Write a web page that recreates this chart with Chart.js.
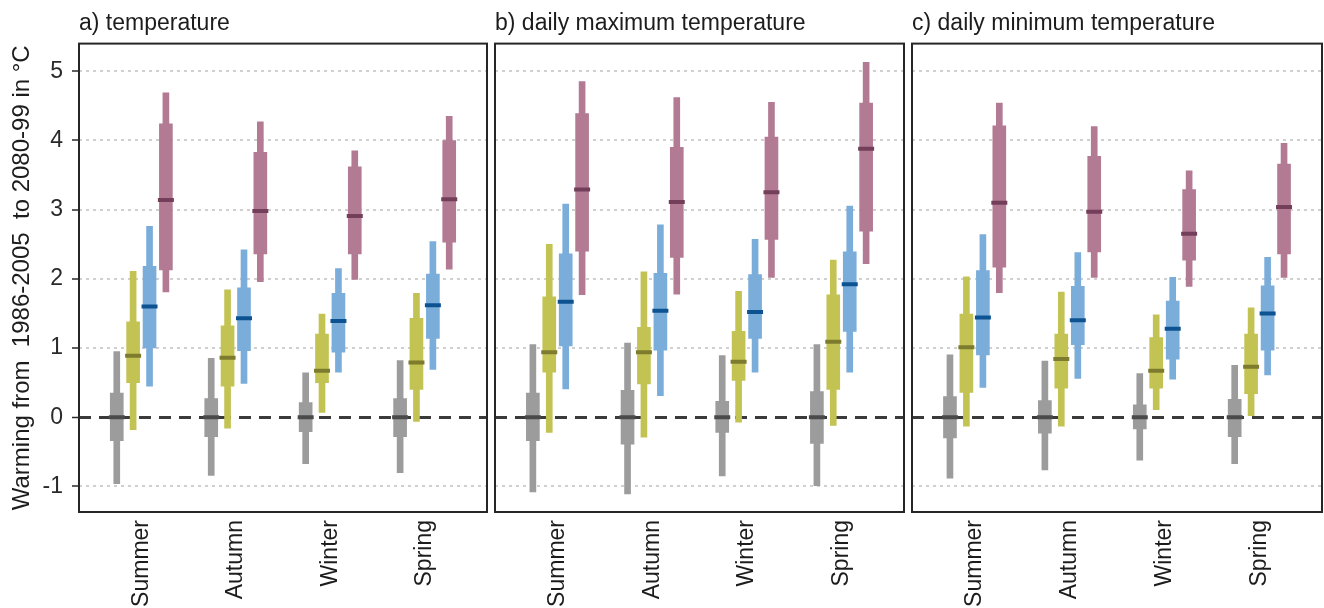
<!DOCTYPE html>
<html>
<head>
<meta charset="utf-8">
<title>Seasonal warming</title>
<script src="https://cdn.jsdelivr.net/npm/chart.js@4.4.1/dist/chart.umd.min.js"></script>
<style>
    html, body { margin: 0; padding: 0; background: #fff; }
    #wrap { position: relative; width: 1324px; height: 608px; overflow: hidden; }
    #wrap canvas { position: absolute; top: 0; }
</style>
</head>
<body>
<div id="wrap">
    <canvas id="panel-a" width="490" height="608" style="left:0px"></canvas>
    <canvas id="panel-b" width="418" height="608" style="left:490px"></canvas>
    <canvas id="panel-c" width="416" height="608" style="left:908px"></canvas>
</div>
<script>
// ── Data ──────────────────────────────
const SEASONS = ['Summer', 'Autumn', 'Winter', 'Spring'];
const SERIES = ['internal variability', 'RCP2.6', 'RCP4.5', 'RCP8.5'];
const Y_TICKS = [-1, 0, 1, 2, 3, 4, 5];
const Y_LABEL = 'Warming from  1986-2005  to 2080-99 in °C';

// each array: one row per series (grey, olive, blue, purple), one value per season
// a) temperature
const tempMin  = [[-0.96, -0.84, -0.67, -0.80], [-0.18, -0.16, 0.07, -0.06], [0.45, 0.49, 0.65, 0.69], [1.81, 1.96, 1.99, 2.14]];
const tempLow  = [[-0.34, -0.28, -0.21, -0.28], [0.50, 0.45, 0.50, 0.40], [1.00, 0.96, 0.94, 1.14], [2.13, 2.36, 2.36, 2.53]];
const tempMed  = [[0, 0, 0, 0], [0.89, 0.86, 0.67, 0.79], [1.60, 1.43, 1.39, 1.62], [3.14, 2.98, 2.91, 3.15]];
const tempHigh = [[0.35, 0.27, 0.21, 0.27], [1.38, 1.32, 1.20, 1.43], [2.18, 1.87, 1.79, 2.07], [4.24, 3.83, 3.62, 4.00]];
const tempMax  = [[0.95, 0.85, 0.64, 0.82], [2.11, 1.84, 1.49, 1.79], [2.76, 2.42, 2.15, 2.54], [4.69, 4.27, 3.85, 4.35]];

// b) daily maximum temperature
const tmaxMin  = [[-1.08, -1.11, -0.85, -0.99], [-0.22, -0.29, -0.07, -0.12], [0.41, 0.31, 0.65, 0.65], [1.77, 1.78, 2.02, 2.22]];
const tmaxLow  = [[-0.34, -0.39, -0.22, -0.38], [0.65, 0.48, 0.53, 0.40], [1.03, 0.97, 1.14, 1.24], [2.40, 2.31, 2.57, 2.69]];
const tmaxMed  = [[0, 0, 0, 0], [0.94, 0.94, 0.80, 1.09], [1.67, 1.54, 1.52, 1.92], [3.29, 3.11, 3.25, 3.88]];
const tmaxHigh = [[0.35, 0.39, 0.23, 0.37], [1.74, 1.30, 1.24, 1.77], [2.36, 2.08, 2.06, 2.39], [4.39, 3.90, 4.05, 4.54]];
const tmaxMax  = [[1.05, 1.07, 0.89, 1.05], [2.50, 2.10, 1.82, 2.27], [3.08, 2.78, 2.57, 3.05], [4.85, 4.62, 4.55, 5.13]];

// c) daily minimum temperature
const tminMin  = [[-0.88, -0.76, -0.62, -0.67], [-0.13, -0.13, 0.11, 0.00], [0.43, 0.56, 0.55, 0.61], [1.80, 2.02, 1.89, 2.02]];
const tminLow  = [[-0.30, -0.23, -0.17, -0.28], [0.36, 0.42, 0.42, 0.34], [0.90, 1.05, 0.84, 0.97], [2.17, 2.39, 2.27, 2.36]];
const tminMed  = [[0, 0, 0, 0], [1.01, 0.84, 0.67, 0.73], [1.44, 1.40, 1.28, 1.50], [3.10, 2.97, 2.65, 3.04]];
const tminHigh = [[0.30, 0.24, 0.18, 0.26], [1.49, 1.20, 1.15, 1.20], [2.12, 1.89, 1.68, 1.90], [4.21, 3.77, 3.29, 3.66]];
const tminMax  = [[0.90, 0.81, 0.63, 0.75], [2.03, 1.81, 1.48, 1.58], [2.64, 2.38, 2.02, 2.31], [4.54, 4.20, 3.56, 3.96]];

// ── Style ─────────────────────────────
const FONT = "'Liberation Sans', Arial, sans-serif";
const FILL = ['#9c9c9c', '#c3c353', '#7badda', '#b27b93'];
const MEDIAN = ['#4a4a4a', '#7d7b2d', '#0d5392', '#733e5a'];
const DODGE = [-0.26, -0.087, 0.087, 0.26]; // series offset inside a season, in category units
const TEXT = '#1c1c1c';

Chart.defaults.font.family = FONT;
Chart.defaults.font.size = 23;
Chart.defaults.color = TEXT;

const framePlugin = {
    id: 'frame',
    afterDatasetsDraw(chart) {
        const { ctx, chartArea: a } = chart;
        ctx.save();
        ctx.strokeStyle = '#262626';
        ctx.lineWidth = 2;
        ctx.strokeRect(a.left, a.top, a.right - a.left, a.bottom - a.top);
        ctx.restore();
    }
};

// ── Panels ────────────────────────────
function buildDatasets(lo, q1, med, q3, hi) {
    const out = [];
    SERIES.forEach((name, k) => {
        const span = (a, b) => SEASONS.map((s, i) => ({ x: i + 1 + DODGE[k], y: [a[k][i], b[k][i]] }));
        out.push({
            type: 'bar', label: name + ' range', data: span(lo, hi),
            backgroundColor: FILL[k], borderWidth: 0, barThickness: 6, grouped: false, order: 2
        });
        out.push({
            type: 'bar', label: name + ' box', data: span(q1, q3),
            backgroundColor: FILL[k], borderWidth: 0, barThickness: 13, grouped: false, order: 1
        });
        out.push({
            type: 'scatter', label: name + ' median',
            data: SEASONS.map((s, i) => ({ x: i + 1 + DODGE[k], y: med[k][i] })),
            showLine: false, pointStyle: 'line', pointRadius: 8, pointHoverRadius: 8,
            pointBorderColor: MEDIAN[k], pointBorderWidth: 4, order: 0
        });
    });
    return out;
}

function drawPanel(id, title, datasets, o) {
    new Chart(document.getElementById(id), {
        type: 'bar',
        data: { datasets },
        options: {
            responsive: false, animation: false, devicePixelRatio: 1, events: [],
            layout: { autoPadding: false, padding: { left: 0, right: o.padRight, top: 0, bottom: 0 } },
            plugins: {
                legend: { display: false },
                tooltip: { enabled: false },
                title: {
                    display: true, text: title, align: 'start', fullSize: false, color: TEXT,
                    font: { size: 23, weight: 'normal' }, padding: { top: 10, bottom: 6 }
                }
            },
            scales: {
                x: {
                    type: 'linear', min: 0.34, max: 4.66, offset: false,
                    afterFit: s => { s.height = 96; s.paddingLeft = 0; s.paddingRight = 0; },
                    grid: { display: false, offset: false },
                    border: { display: false },
                    ticks: {
                        stepSize: 1, includeBounds: false, autoSkip: false,
                        minRotation: 90, maxRotation: 90, padding: 0, color: TEXT,
                        callback: v => SEASONS[v - 1]
                    }
                },
                y: {
                    type: 'linear', min: -1.37, max: 5.4,
                    afterFit: s => { s.width = o.yWidth; },
                    afterBuildTicks: s => { s.ticks = Y_TICKS.map(v => ({ value: v })); },
                    title: {
                        display: o.showAxis, text: Y_LABEL, color: TEXT,
                        font: { size: 24 }, padding: { top: 8, bottom: 0 }
                    },
                    ticks: { display: o.showAxis, padding: 9, color: '#2a2a2a' },
                    grid: {
                        drawTicks: o.showAxis, tickLength: 7, tickColor: '#2a2a2a', tickWidth: 1.5,
                        color: c => c.tick.value === 0 ? '#3a3a3a' : '#d0d0d0',
                        lineWidth: c => c.tick.value === 0 ? 3 : 2
                    },
                    border: {
                        display: false,
                        dash: c => c.tick && c.tick.value === 0 ? [12, 8] : [3, 4]
                    }
                }
            }
        },
        plugins: [framePlugin]
    });
}

// ── Init ──────────────────────────────
drawPanel('panel-a', 'a) temperature',
    buildDatasets(tempMin, tempLow, tempMed, tempHigh, tempMax),
    { yWidth: 79, padRight: 3, showAxis: true });
drawPanel('panel-b', 'b) daily maximum temperature',
    buildDatasets(tmaxMin, tmaxLow, tmaxMed, tmaxHigh, tmaxMax),
    { yWidth: 5, padRight: 4, showAxis: false });
drawPanel('panel-c', 'c) daily minimum temperature',
    buildDatasets(tminMin, tminLow, tminMed, tminHigh, tminMax),
    { yWidth: 4, padRight: 2, showAxis: false });
</script>
</body>
</html>
